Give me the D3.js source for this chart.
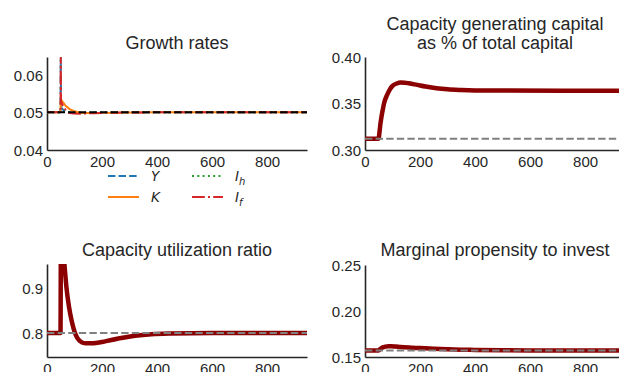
<!DOCTYPE html>
<html>
<head>
<meta charset="utf-8">
<script src="https://cdn.jsdelivr.net/npm/d3@7"></script>
<style>
  body { margin: 0; background: #fff; }
  svg { display: block; font-family: "Liberation Sans", Arial, sans-serif; }
  .tick text { fill: #262626; font-size: 15px; }
  .title { fill: #262626; font-size: 18px; text-anchor: middle; }
  .leg { fill: #262626; font-family: "DejaVu Sans", sans-serif; font-style: italic; font-size: 13.5px; }
</style>
</head>
<body>
<svg id="chart" width="619" height="372"></svg>
<script>
// growth rates panel
const growthT = [0, 49, 50, 51, 53, 55, 60, 65, 70, 80, 90, 100, 115, 130, 150, 175, 200, 250, 300, 400, 600, 945];
const growthY = [0.05, 0.05, 0.0646, 0.0516, 0.0512, 0.0510, 0.0506, 0.0503, 0.0501, 0.04995, 0.04988, 0.04985, 0.04982, 0.04982, 0.04984, 0.04987, 0.0499, 0.04994, 0.04997, 0.05, 0.05, 0.05];
const growthK = [0.05, 0.05, 0.0535, 0.0534, 0.0532, 0.0530, 0.0525, 0.0520, 0.0516, 0.0510, 0.0506, 0.0503, 0.0500, 0.04985, 0.0498, 0.04982, 0.04986, 0.04992, 0.04996, 0.05, 0.05, 0.05];
const growthIh = [0.05, 0.05, 0.0501, 0.0501, 0.0501, 0.0501, 0.0501, 0.0501, 0.05005, 0.05, 0.04995, 0.04993, 0.04992, 0.04992, 0.04994, 0.04996, 0.04997, 0.04998, 0.04999, 0.05, 0.05, 0.05];
const growthIf = [0.05, 0.05, 0.0648, 0.0530, 0.0526, 0.0522, 0.0515, 0.0509, 0.0505, 0.0499, 0.04975, 0.04968, 0.04965, 0.04967, 0.04972, 0.04979, 0.04985, 0.04992, 0.04996, 0.05, 0.05, 0.05];
const growthRef = 0.05;

// capacity generating capital share
const capT = [0, 48, 50, 53, 56, 60, 65, 70, 80, 90, 100, 115, 130, 145, 160, 190, 220, 260, 300, 350, 400, 500, 945];
const capV = [0.312, 0.312, 0.313, 0.320, 0.328, 0.336, 0.344, 0.351, 0.359, 0.365, 0.369, 0.3715, 0.3725, 0.3724, 0.3717, 0.3700, 0.3683, 0.3664, 0.3652, 0.3645, 0.3641, 0.3639, 0.3638];
const capRef = 0.312;

// capacity utilization
const utilT = [0, 49, 51, 55, 60, 65, 70, 80, 90, 100, 110, 120, 135, 150, 170, 200, 230, 270, 320, 380, 450, 600, 945];
const utilV = [0.8, 0.8, 1.06, 1.03, 0.98, 0.94, 0.905, 0.858, 0.826, 0.803, 0.789, 0.782, 0.7775, 0.777, 0.7775, 0.780, 0.784, 0.789, 0.794, 0.7975, 0.799, 0.80, 0.80];
const utilRef = 0.8;

// marginal propensity to invest
const mpiT = [0, 48, 55, 65, 75, 85, 95, 110, 130, 160, 200, 250, 300, 350, 400, 500, 600, 945];
const mpiV = [0.157, 0.157, 0.1585, 0.1605, 0.1613, 0.1617, 0.1617, 0.1614, 0.1608, 0.1602, 0.1597, 0.1590, 0.1584, 0.1580, 0.1577, 0.1573, 0.1571, 0.157];
const mpiRef = 0.157;

const xTicks = [0, 200, 400, 600, 800];

const svg = d3.select("#chart");

const panels = [
  { id: "p1", left: 47, top: 57, w: 260, h: 93, y: [0.04, 0.0647], yTicks: [0.04, 0.05, 0.06], fmt: ".2f",
    title: ["Growth rates"], titleY: 49 },
  { id: "p2", left: 365, top: 57, w: 260, h: 93, y: [0.30, 0.40], yTicks: [0.30, 0.35, 0.40], fmt: ".2f",
    title: ["Capacity generating capital", "as % of total capital"], titleY: 30 },
  { id: "p3", left: 47, top: 264, w: 260, h: 93, y: [0.7467, 0.9533], yTicks: [0.8, 0.9], fmt: ".1f",
    title: ["Capacity utilization ratio"], titleY: 256 },
  { id: "p4", left: 365, top: 265, w: 260, h: 92, y: [0.15, 0.25], yTicks: [0.15, 0.20, 0.25], fmt: ".2f",
    title: ["Marginal propensity to invest"], titleY: 256 }
];

function makePanel(p) {
  const x = d3.scaleLinear().domain([0, 945]).range([0, p.w]);
  const y = d3.scaleLinear().domain(p.y).range([p.h, 0]);
  const g = svg.append("g").attr("transform", `translate(${p.left},${p.top})`);

  g.append("clipPath").attr("id", "clip-" + p.id)
    .append("rect").attr("width", p.w).attr("height", p.h);

  const xAxis = g.append("g").attr("transform", `translate(0,${p.h})`)
    .call(d3.axisBottom(x).tickValues(xTicks).tickSize(0).tickPadding(6).tickFormat(d3.format("d")));
  const yAxis = g.append("g")
    .call(d3.axisLeft(y).tickValues(p.yTicks).tickSize(0).tickPadding(4).tickFormat(d3.format(p.fmt)));
  [xAxis, yAxis].forEach(a => {
    a.select(".domain").attr("stroke", "#262626").attr("stroke-width", 1.6);
    a.selectAll("text").attr("font-family", null).attr("font-size", null);
  });
  xAxis.selectAll("text").attr("dy", "0.71em");
  yAxis.selectAll("text").attr("dy", "0.36em");

  p.title.forEach((t, i) => {
    svg.append("text").attr("class", "title")
      .attr("x", p.left + p.w / 2).attr("y", p.titleY + i * 18.5).text(t);
  });

  const plot = g.append("g").attr("clip-path", `url(#clip-${p.id})`);
  return { x, y, plot };
}

function series(ts, vs) {
  return ts.map((t, i) => ({ t, v: vs[i] }));
}

function addLine(pan, data, color, width, dash) {
  const line = d3.line().x(d => pan.x(d.t)).y(d => pan.y(d.v)).curve(d3.curveMonotoneX);
  pan.plot.append("path").datum(data)
    .attr("fill", "none").attr("stroke", color).attr("stroke-width", width)
    .attr("stroke-dasharray", dash || null)
    .attr("d", line);
}

function addRef(pan, val, color) {
  pan.plot.append("line")
    .attr("x1", 0).attr("x2", pan.x.range()[1])
    .attr("y1", pan.y(val)).attr("y2", pan.y(val))
    .attr("stroke", color).attr("stroke-width", 2).attr("stroke-dasharray", "7.4,3.2");
}

// panel 1
const a1 = makePanel(panels[0]);
const growthSeries = [
  { name: "Y", sub: "", vals: growthY, color: "#1f77b4", dash: "7.4,3.2" },
  { name: "K", sub: "", vals: growthK, color: "#ff7f0e", dash: null },
  { name: "I", sub: "h", vals: growthIh, color: "#2ca02c", dash: "2,3.3" },
  { name: "I", sub: "f", vals: growthIf, color: "#d62728", dash: "12.8,3.2,2,3.2" }
];
growthSeries.forEach(s => addLine(a1, series(growthT, s.vals), s.color, 2, s.dash));
addRef(a1, growthRef, "#000");

// legend under panel 1
const leg = svg.append("g");
growthSeries.forEach((s, i) => {
  const col = i < 2 ? 0 : 1;
  const row = i % 2;
  const lx = 108 + col * 84, ly = 176 + row * 21;
  leg.append("line").attr("x1", lx).attr("x2", lx + 31).attr("y1", ly).attr("y2", ly)
    .attr("stroke", s.color).attr("stroke-width", 2).attr("stroke-dasharray", s.dash);
  const t = leg.append("text").attr("class", "leg").attr("x", lx + 43).attr("y", ly + 5).text(s.name);
  if (s.sub) t.append("tspan").attr("dy", 3.5).attr("font-size", 10).text(s.sub);
});

// panel 2
const a2 = makePanel(panels[1]);
addLine(a2, series(capT, capV), "#8b0000", 4.5);
addRef(a2, capRef, "#808080");

// panel 3
const a3 = makePanel(panels[2]);
addLine(a3, series(utilT, utilV), "#8b0000", 4.5);
addRef(a3, utilRef, "#808080");

// panel 4
const a4 = makePanel(panels[3]);
addLine(a4, series(mpiT, mpiV), "#8b0000", 4.5);
addRef(a4, mpiRef, "#808080");
</script>
</body>
</html>
